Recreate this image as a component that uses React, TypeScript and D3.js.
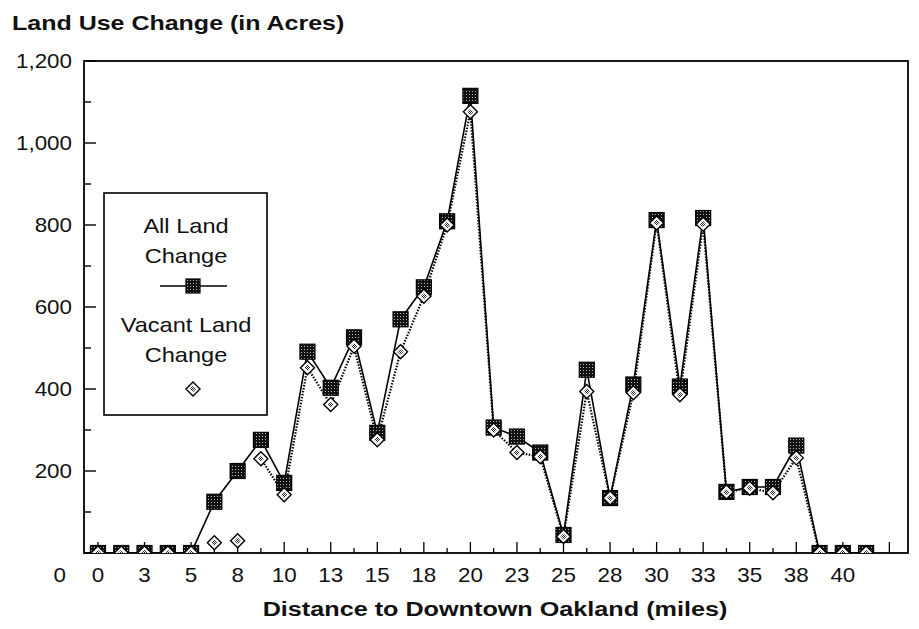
import React from "react";
import * as d3 from "d3";

// Distance index i corresponds to 1.25*i miles; labels shown at every second index (rounded)
const distanceLabels = ["0", "3", "5", "8", "10", "13", "15", "18", "20", "23", "25", "28", "30", "33", "35", "38", "40"];
const allLandChange = [0, 0, 0, 0, 0, 125, 200, 276, 171, 491, 403, 526, 293, 570, 648, 809, 1115, 306, 284, 245, 44, 447, 134, 411, 812, 406, 817, 149, 161, 161, 262, 0, 0, 0];
const vacantLandChange = [0, 0, 0, 0, 0, 25, 30, 230, 142, 452, 362, 504, 276, 491, 626, 800, 1076, 300, 245, 235, 40, 394, 134, 391, 805, 386, 802, 149, 158, 147, 232, 0, 0, 0];
const vacantLinkedFrom = 7; // earlier vacant points are drawn without a connecting line
const yTickValues = [0, 200, 400, 600, 800, 1000, 1200];
const yMinorValues = [100, 300, 500, 700, 900, 1100];
const tickCount = 35;

const FONT = "'Liberation Sans', Arial, Helvetica, sans-serif";

function T({ x, y, anchor = "start", size = 20, weight = "normal", sx = 1.12, children }: any) {
  return (
    <text
      transform={`translate(${x},${y}) scale(${sx},1)`}
      textAnchor={anchor}
      fontSize={size}
      fontWeight={weight}
      fontFamily={FONT}
      fill="#111"
    >
      {children}
    </text>
  );
}

function Square({ cx, cy, s = 15 }: any) {
  return (
    <rect x={cx - s / 2} y={cy - s / 2} width={s} height={s} fill="url(#darkHatch)" stroke="#000" strokeWidth={1.2} />
  );
}

function Diamond({ cx, cy, r = 7 }: any) {
  const p = (rr: number) => `M${cx},${cy - rr}L${cx + rr},${cy}L${cx},${cy + rr}L${cx - rr},${cy}Z`;
  return (
    <g>
      <path d={p(r)} fill="#fff" stroke="#000" strokeWidth={1.4} />
      <path d={p(r * 0.45)} fill="url(#checker)" stroke="none" />
    </g>
  );
}

export default function App() {
  const W = 919, H = 629;
  const left = 84, right = 908, top = 61, bottom = 553;
  const x = d3.scaleLinear().domain([-0.6, 34.8]).range([left, right]);
  const y = d3.scaleLinear().domain([0, 1200]).range([bottom, top]);

  const allPts = allLandChange.map((v, i) => ({ i, v }));
  const vacPts = vacantLandChange.map((v, i) => ({ i, v }));

  const allLine = d3.line<any>().x((d) => x(d.i)).y((d) => y(d.v))(allPts) || "";
  const vacLine = d3
    .line<any>()
    .defined((d) => d.i >= vacantLinkedFrom && d.v != null)
    .x((d) => x(d.i))
    .y((d) => y(d.v))(vacPts) || "";

  const ticks = d3.range(tickCount);

  return (
    <svg width={W} height={H} style={{ position: "absolute", left: 0, top: 0, background: "#fff" }}>
      <defs>
        <pattern id="darkHatch" width={3} height={3} patternUnits="userSpaceOnUse">
          <rect width={3} height={3} fill="#111" />
          <rect x={1} y={1} width={1} height={1} fill="#bbb" />
        </pattern>
        <pattern id="checker" width={2} height={2} patternUnits="userSpaceOnUse">
          <rect width={2} height={2} fill="#fff" />
          <rect width={1} height={1} fill="#222" />
          <rect x={1} y={1} width={1} height={1} fill="#222" />
        </pattern>
        <clipPath id="plotClip">
          <rect x={left} y={top - 10} width={right - left} height={bottom - top + 10} />
        </clipPath>
      </defs>

      {/* Title */}
      <T x={12} y={30} size={21} weight="bold" sx={1.19}>Land Use Change (in Acres)</T>

      {/* Frame */}
      <rect x={left} y={top} width={right - left} height={bottom - top} fill="none" stroke="#000" strokeWidth={1.8} />

      {/* Y ticks */}
      {yTickValues.map((v) => (
        <line key={"yt" + v} x1={left} x2={left + 12} y1={y(v)} y2={y(v)} stroke="#000" strokeWidth={1.4} />
      ))}
      {yMinorValues.map((v) => (
        <line key={"ym" + v} x1={left} x2={left + 7} y1={y(v)} y2={y(v)} stroke="#000" strokeWidth={1.4} />
      ))}
      {yTickValues.map((v) =>
        v === 0 ? (
          <T key={"yl" + v} x={66} y={582} anchor="end">0</T>
        ) : (
          <T key={"yl" + v} x={72} y={y(v) + 7} anchor="end">{d3.format(",")(v)}</T>
        )
      )}

      {/* X ticks */}
      {ticks.map((i) => (
        <line key={"xt" + i} x1={x(i)} x2={x(i)} y1={bottom} y2={bottom - (i % 2 === 0 ? 11 : 5)} stroke="#000" strokeWidth={1.3} />
      ))}
      {distanceLabels.map((lab, k) => (
        <T key={"xl" + k} x={x(k * 2)} y={582} anchor="middle">{lab}</T>
      ))}
      <T x={495} y={616} anchor="middle" size={21} weight="bold" sx={1.2}>Distance to Downtown Oakland (miles)</T>

      {/* Series */}
      <g clipPath="url(#plotClip)">
        <path d={allLine} fill="none" stroke="#000" strokeWidth={1.6} />
        <path d={vacLine} fill="none" stroke="#000" strokeWidth={2.2} strokeDasharray="1.5 1.5" />
        {allPts.map((d) => (
          <Square key={"s" + d.i} cx={x(d.i)} cy={y(d.v)} />
        ))}
        {vacPts.filter((d) => d.v != null).map((d) => (
          <Diamond key={"d" + d.i} cx={x(d.i)} cy={y(d.v)} />
        ))}
      </g>

      {/* Legend */}
      <rect x={104} y={193} width={163} height={222} fill="#fff" stroke="#000" strokeWidth={1.6} />
      <T x={186} y={233} anchor="middle" sx={1.18}>All Land</T>
      <T x={186} y={263} anchor="middle" sx={1.18}>Change</T>
      <line x1={160} x2={227} y1={286} y2={286} stroke="#000" strokeWidth={1.6} />
      <Square cx={193} cy={286} s={14} />
      <T x={186} y={332} anchor="middle" sx={1.18}>Vacant Land</T>
      <T x={186} y={362} anchor="middle" sx={1.18}>Change</T>
      <Diamond cx={193} cy={389} />
    </svg>
  );
}
